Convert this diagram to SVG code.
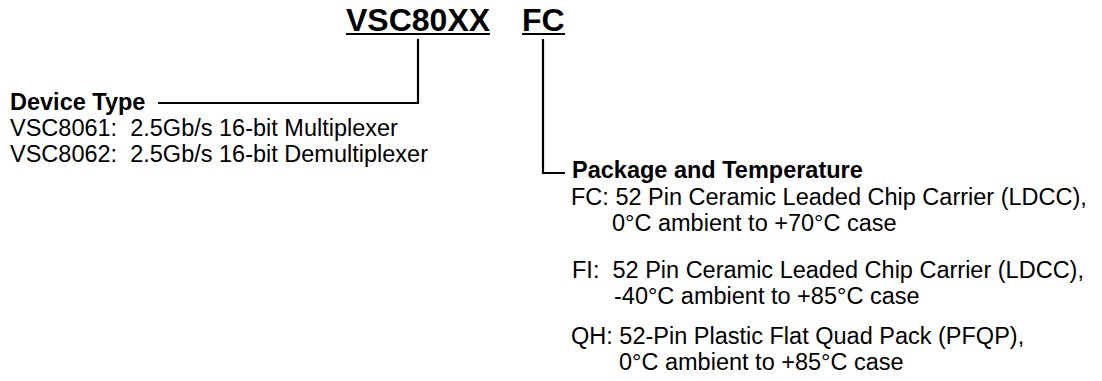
<svg xmlns="http://www.w3.org/2000/svg" width="1102" height="381" viewBox="0 0 1102 381">
<style>
text{font-family:"Liberation Sans",Arial,sans-serif;fill:#000;white-space:pre}
.t{font-size:32px;font-weight:bold}
.h{font-size:23.5px;font-weight:bold}
.n{font-size:23.5px}
.ln{stroke:#000;stroke-width:2.2;fill:none}
</style>
<rect width="1102" height="381" fill="#fff"/>
<g id="title">
<text class="t" x="346" y="31">VSC80XX</text>
<line class="ln" x1="346" y1="34" x2="490" y2="34"/>
<text class="t" x="522" y="31">FC</text>
<line class="ln" x1="522" y1="34" x2="565" y2="34"/>
</g>
<g id="connectors">
<polyline class="ln" points="418,39 418,103 158,103"/>
<polyline class="ln" points="543,39 543,173 565,173"/>
</g>
<g id="device-type">
<text class="h" x="10" y="110">Device Type</text>
<text class="n" x="10" y="136" xml:space="preserve">VSC8061:  2.5Gb/s 16-bit Multiplexer</text>
<text class="n" x="10" y="162" xml:space="preserve">VSC8062:  2.5Gb/s 16-bit Demultiplexer</text>
</g>
<g id="package">
<text class="h" x="572" y="178">Package and Temperature</text>
<text class="n" x="571" y="205">FC: 52 Pin Ceramic Leaded Chip Carrier (LDCC),</text>
<text class="n" x="612" y="231">0°C ambient to +70°C case</text>
<text class="n" x="572" y="278" xml:space="preserve">FI:  52 Pin Ceramic Leaded Chip Carrier (LDCC),</text>
<text class="n" x="614" y="304">-40°C ambient to +85°C case</text>
<text class="n" x="571" y="344">QH: 52-Pin Plastic Flat Quad Pack (PFQP),</text>
<text class="n" x="619" y="370">0°C ambient to +85°C case</text>
</g>
</svg>
